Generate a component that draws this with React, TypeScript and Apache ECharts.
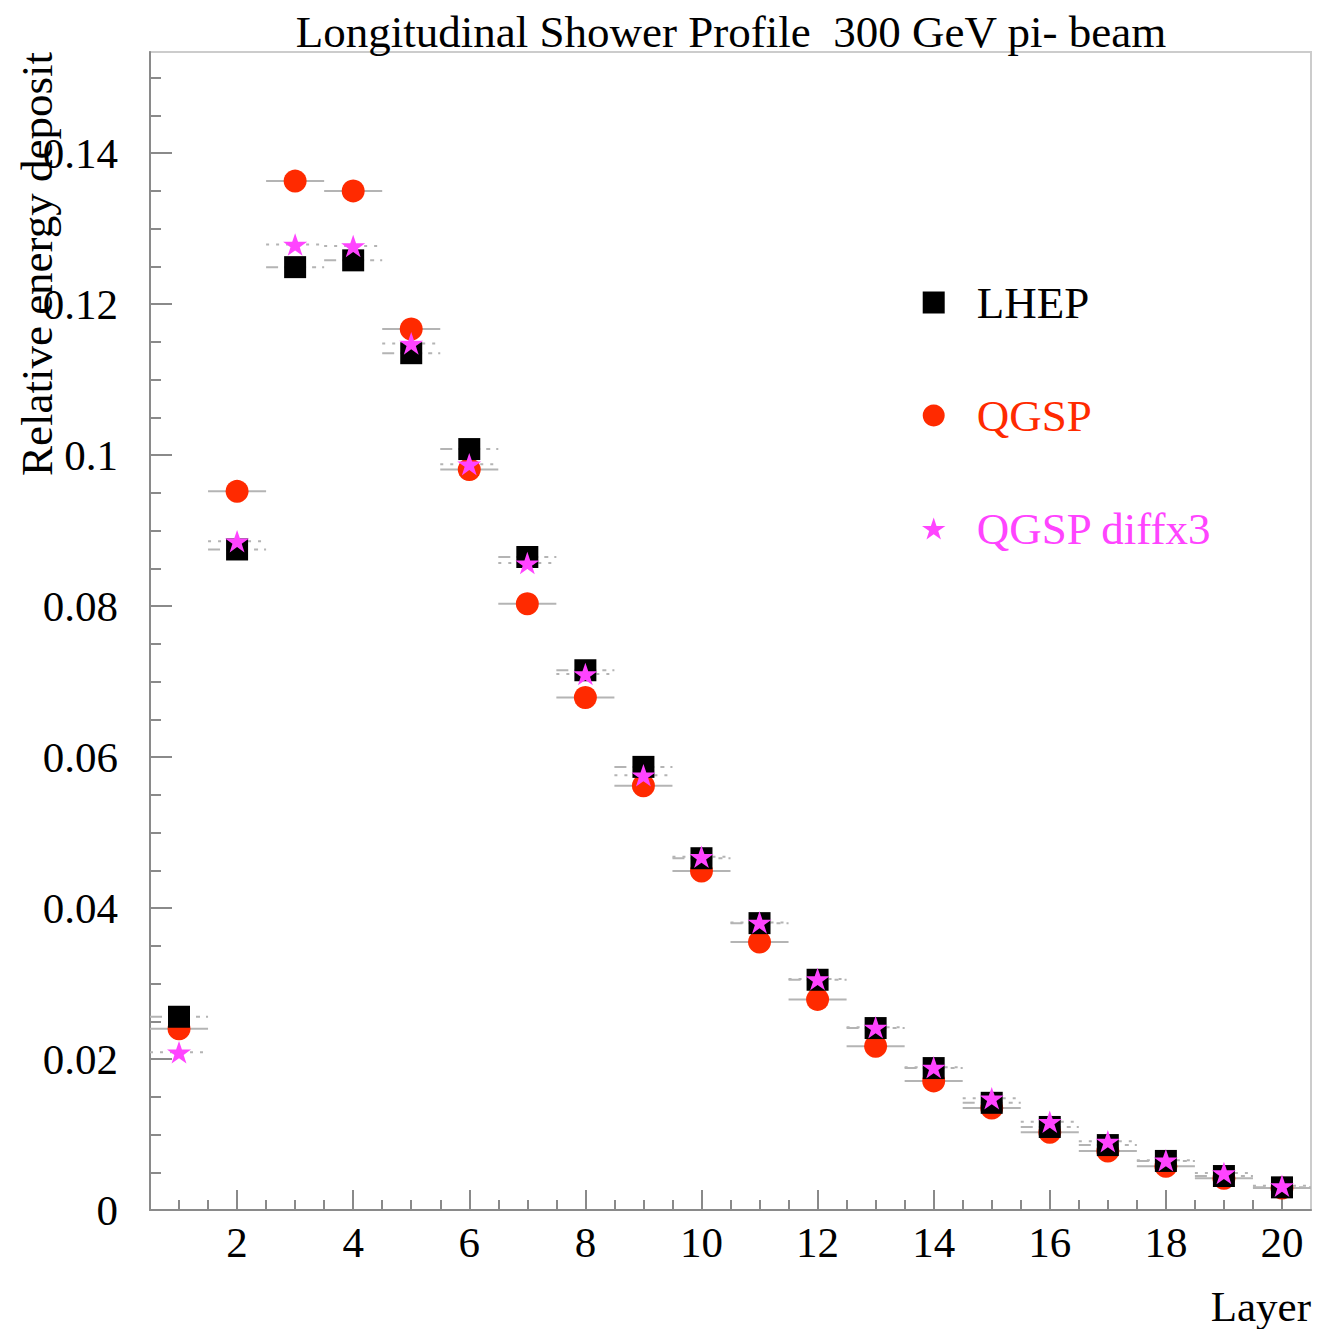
import React, { useEffect, useRef } from "react";
import * as echarts from "echarts";

// Layer numbers and relative energy deposit per model
const layers = [1, 2, 3, 4, 5, 6, 7, 8, 9, 10, 11, 12, 13, 14, 15, 16, 17, 18, 19, 20];
const lhep = [0.0256, 0.0875, 0.1249, 0.1258, 0.1135, 0.1008, 0.0865, 0.0715, 0.0587, 0.0466,
  0.038, 0.0305, 0.0241, 0.0188, 0.0142, 0.011, 0.0086, 0.0065, 0.0045, 0.003];
const qgsp = [0.024, 0.0952, 0.1363, 0.135, 0.1167, 0.0981, 0.0803, 0.0679, 0.0562, 0.0449,
  0.0355, 0.0279, 0.0217, 0.0171, 0.0135, 0.0103, 0.0078, 0.0058, 0.0042, 0.0029];
const diffx3 = [0.0209, 0.0886, 0.1279, 0.1277, 0.1148, 0.0988, 0.0857, 0.071, 0.0576, 0.0468,
  0.0381, 0.0306, 0.0242, 0.0189, 0.0148, 0.0117, 0.0091, 0.0066, 0.0049, 0.0032];

// Tick positions
const xMajorTicks = [2, 4, 6, 8, 10, 12, 14, 16, 18, 20];
const xMinorTicks = [1, 1.5, 2.5, 3, 3.5, 4.5, 5, 5.5, 6.5, 7, 7.5, 8.5, 9, 9.5, 10.5, 11, 11.5,
  12.5, 13, 13.5, 14.5, 15, 15.5, 16.5, 17, 17.5, 18.5, 19, 19.5];
const yMajorTicks = [0, 0.02, 0.04, 0.06, 0.08, 0.1, 0.12, 0.14];
const yMinorTicks = [0.005, 0.01, 0.015, 0.025, 0.03, 0.035, 0.045, 0.05, 0.055, 0.065, 0.07,
  0.075, 0.085, 0.09, 0.095, 0.105, 0.11, 0.115, 0.125, 0.13, 0.135, 0.145, 0.15];

const FONT = "'Liberation Serif', 'DejaVu Serif', serif";
const RED = "#ff2a00";
const MAGENTA = "#ff44ff";
const SQUARE = "path://M0,0 L10,0 L10,10 L0,10 Z";
const STAR =
  "path://M50,0 L61.8,35.1 L98.9,35.1 L68.9,56.9 L80.3,91.9 L50,70.2 L19.7,91.9 L31.1,56.9 L1.1,35.1 L38.2,35.1 Z";

const pairs = (ys: number[]) => layers.map((x, i) => [x, ys[i]]);

// Horizontal bar spanning the layer width (x ± 0.5)
const binBars = (name: string, ys: number[], dash: number[] | null) => ({
  type: "custom",
  name: name + " bins",
  xAxisIndex: 0,
  yAxisIndex: 0,
  silent: true,
  z: 1,
  encode: { x: 0, y: 1 },
  data: pairs(ys),
  renderItem: (_p: any, api: any) => {
    const x = api.value(0);
    const y = api.value(1);
    const a = api.coord([x - 0.5, y]);
    const b = api.coord([x + 0.5, y]);
    return {
      type: "line",
      shape: { x1: a[0], y1: a[1], x2: b[0], y2: b[1] },
      style: { stroke: "#b4b4b4", lineWidth: 2, lineDash: dash || undefined },
    };
  },
});

export default function App() {
  const ref = useRef<HTMLDivElement>(null);

  useEffect(() => {
    document.body.style.margin = "0";
    const chart = echarts.init(ref.current!, null, { renderer: "svg" });
    const axisLine = { show: true, lineStyle: { color: "#8a8a8a", width: 2 } };
    chart.setOption({
      animation: false,
      backgroundColor: "#ffffff",
      grid: {
        left: 150,
        top: 52,
        width: 1161,
        height: 1158,
        show: true,
        borderColor: "#cccccc",
        borderWidth: 2,
      },
      xAxis: [
        {
          type: "value",
          min: 0.5,
          max: 20.5,
          position: "bottom",
          axisLine,
          splitLine: { show: false },
          axisTick: {
            show: true,
            inside: true,
            length: 20,
            customValues: xMajorTicks,
            lineStyle: { color: "#8a8a8a", width: 2 },
          },
          axisLabel: {
            customValues: xMajorTicks,
            fontFamily: FONT,
            fontSize: 43,
            color: "#000",
            margin: 11,
          },
        },
        {
          type: "value",
          min: 0.5,
          max: 20.5,
          position: "bottom",
          axisLine: { show: false },
          splitLine: { show: false },
          axisTick: {
            show: true,
            inside: true,
            length: 10,
            customValues: xMinorTicks,
            lineStyle: { color: "#8a8a8a", width: 2 },
          },
          axisLabel: { show: false },
        },
      ],
      yAxis: [
        {
          type: "value",
          min: 0,
          max: 0.1534,
          position: "left",
          axisLine,
          splitLine: { show: false },
          axisTick: {
            show: true,
            inside: true,
            length: 22,
            customValues: yMajorTicks,
            lineStyle: { color: "#8a8a8a", width: 2 },
          },
          axisLabel: {
            customValues: yMajorTicks,
            fontFamily: FONT,
            fontSize: 43,
            color: "#000",
            margin: 32,
          },
        },
        {
          type: "value",
          min: 0,
          max: 0.1534,
          position: "left",
          axisLine: { show: false },
          splitLine: { show: false },
          axisTick: {
            show: true,
            inside: true,
            length: 11,
            customValues: yMinorTicks,
            lineStyle: { color: "#8a8a8a", width: 2 },
          },
          axisLabel: { show: false },
        },
      ],
      legend: {
        orient: "vertical",
        left: 917,
        top: 275,
        itemWidth: 66,
        itemHeight: 22,
        itemGap: 68,
        symbolKeepAspect: true,
        textStyle: { fontFamily: FONT, fontSize: 45, padding: [0, 0, 0, 5] },
        data: [
          { name: "LHEP", textStyle: { color: "#000" } },
          { name: "QGSP", textStyle: { color: RED } },
          { name: "QGSP diffx3", textStyle: { color: MAGENTA } },
        ],
      },
      graphic: [
        {
          type: "text",
          x: 731,
          y: 32,
          style: {
            text: "Longitudinal Shower Profile  300 GeV pi- beam",
            fontFamily: FONT,
            fontSize: 45,
            fill: "#000",
            align: "center",
            verticalAlign: "middle",
          },
        },
        {
          type: "text",
          x: 37,
          y: 52,
          rotation: Math.PI / 2,
          style: {
            text: "Relative energy deposit",
            fontFamily: FONT,
            fontSize: 45,
            fill: "#000",
            align: "right",
            verticalAlign: "middle",
          },
        },
        {
          type: "text",
          x: 1311,
          y: 1306,
          style: {
            text: "Layer",
            fontFamily: FONT,
            fontSize: 43,
            fill: "#000",
            align: "right",
            verticalAlign: "middle",
          },
        },
      ],
      series: [
        binBars("QGSP", qgsp, null),
        binBars("LHEP", lhep, [12, 6, 4, 6]),
        binBars("QGSP diffx3", diffx3, [3, 7]),
        {
          type: "scatter",
          name: "QGSP",
          xAxisIndex: 0,
          yAxisIndex: 0,
          symbol: "circle",
          symbolSize: 23,
          z: 3,
          itemStyle: { color: RED, opacity: 1 },
          data: pairs(qgsp),
        },
        {
          type: "scatter",
          name: "LHEP",
          xAxisIndex: 0,
          yAxisIndex: 0,
          symbol: SQUARE,
          symbolKeepAspect: true,
          symbolSize: 22,
          z: 4,
          itemStyle: { color: "#000", opacity: 1 },
          data: pairs(lhep),
        },
        {
          type: "scatter",
          name: "QGSP diffx3",
          xAxisIndex: 0,
          yAxisIndex: 0,
          symbol: STAR,
          symbolKeepAspect: true,
          symbolSize: 24,
          z: 5,
          itemStyle: { color: MAGENTA, opacity: 1 },
          data: pairs(diffx3),
        },
      ],
    });
    return () => chart.dispose();
  }, []);

  return <div ref={ref} style={{ width: 1321, height: 1329 }} />;
}
